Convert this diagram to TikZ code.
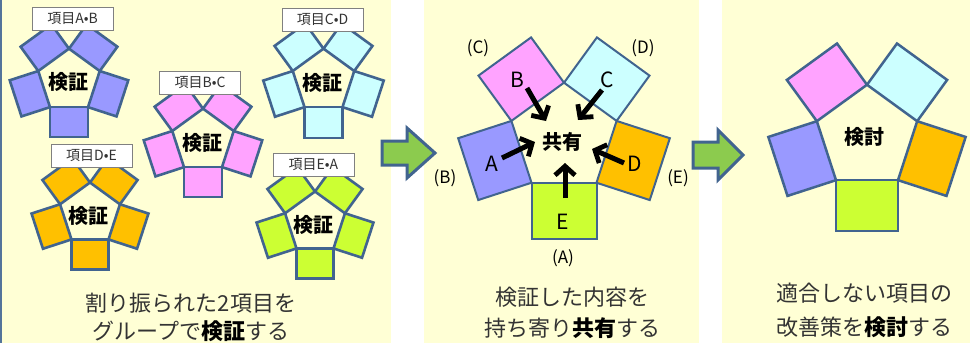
\documentclass[tikz,border=0pt]{standalone}
\usepackage{fontspec}
\setmainfont{Noto Sans CJK JP}
\usetikzlibrary{arrows.meta}
\definecolor{bg}{HTML}{FFFFD5}
\definecolor{edge}{HTML}{41648F}
\definecolor{cPurple}{HTML}{9999FF}
\definecolor{cPink}{HTML}{FFA3FF}
\definecolor{cCyan}{HTML}{CCFFFF}
\definecolor{cOrange}{HTML}{FFC000}
\definecolor{cLime}{HTML}{CCFF33}
\definecolor{cArrow}{HTML}{8CCB4E}
\definecolor{txt}{HTML}{333333}
\tikzset{
  tag/.style={draw=gray, fill=white, line width=0.8pt, minimum width=81pt, minimum height=23pt, inner sep=0pt, font=\fontsize{14}{16}\selectfont, text=txt},
  centre/.style={font=\fontsize{20}{22}\selectfont\bfseries, text=black},
  caption/.style={font=\fontsize{22}{26}\selectfont, text=txt, inner sep=0pt},
  letter/.style={font=\fontsize{21}{24}\selectfont, text=black, inner sep=0pt},
  paren/.style={font=\fontsize{17}{20}\selectfont, text=black, inner sep=0pt},
  bigarrow/.style={draw=edge, fill=cArrow, line width=3pt, line join=miter},
  pointer/.style={draw=black, line width=5pt, line cap=butt, -{Straight Barb[length=9pt,width=20pt,line width=4.8pt]}},
}
% multi-coloured flower
\newcommand{\flower}[5]{%
  \pgfmathsetmacro{\apo}{#3/(2*tan(36))}%
  \foreach \k/\c in {0/cLime,1/cOrange,2/cCyan,3/cPink,4/cPurple}{%
    \begin{scope}[shift={(#1,#2)}, rotate=72*\k]
      \draw[fill=\c, draw=edge, line width=#5, line join=miter] (-#3/2,\apo) rectangle (#3/2,\apo+#4);
    \end{scope}
  }%
}
% single-coloured flower
\newcommand{\monoflower}[6]{%
  \pgfmathsetmacro{\apo}{#3/(2*tan(36))}%
  \foreach \k in {0,...,4}{%
    \begin{scope}[shift={(#1,#2)}, rotate=72*\k]
      \draw[fill=#6, draw=edge, line width=#5, line join=miter] (-#3/2,\apo) rectangle (#3/2,\apo+#4);
    \end{scope}
  }%
}
\begin{document}
\begin{tikzpicture}[x=1pt,y=-1pt]
\useasboundingbox (0,0) rectangle (970,343);
% panels
\fill[bg] (0,0) rectangle (391,343);
\fill[bg] (424,0) rectangle (699,343);
\fill[bg] (722,0) rectangle (970,343);
\fill[edge!90] (0,0) rectangle (1.6,343);

% ---------- left panel ----------
\monoflower{69}{81}{38}{30}{2.6pt}{cPurple}
\monoflower{323.5}{81}{38}{31}{2.6pt}{cCyan}
\monoflower{203}{141}{38}{30}{2.6pt}{cPink}
\monoflower{90}{214}{37}{30}{2.6pt}{cOrange}
\monoflower{315}{223}{37}{30}{2.6pt}{cLime}
\node[tag] (tAB) at (72.5,18.5) {項目A•B};
\node[tag] (tCD) at (322.5,19.5) {項目C•D};
\node[tag] (tBC) at (200,82.5) {項目B•C};
\node[tag] (tDE) at (91.5,156) {項目D•E};
\node[tag] (tEA) at (313.5,165) {項目E•A};
\node[centre] (kAB) at (68,82) {検証};
\node[centre] (kCD) at (322,83) {検証};
\node[centre] (kBC) at (202,143) {検証};
\node[centre] (kDE) at (88,216) {検証};
\node[centre] (kEA) at (313,225) {検証};
\node[caption] (l1) at (191,303) {割り振られた2項目を};
\node[caption] (l2) at (191,331) {グループで\textbf{\color{black}検証}する};

% ---------- arrows between panels ----------
\draw[bigarrow] (382,141) -- (407,141) -- (407,128) -- (435,153) -- (407,178) -- (407,165) -- (382,165) -- cycle;
\draw[bigarrow] (693,142) -- (718,142) -- (718,130) -- (743,155) -- (718,180) -- (718,168) -- (693,168) -- cycle;

% ---------- middle panel ----------
\flower{564}{138}{65}{56}{2pt}
\node[font=\fontsize{20}{22}\selectfont\bfseries] (share) at (562,142) {共有};
\node[letter] (lB) at (517,80) {B};
\node[letter] (lC) at (607,80) {C};
\node[letter] (lA) at (492,164) {A};
\node[letter] (lD) at (635,164) {D};
\node[letter] (lE) at (563,222) {E};
\node[paren] (pC) at (478,48) {(C)};
\node[paren] (pD) at (643,48) {(D)};
\node[paren] (pB) at (445,178) {(B)};
\node[paren] (pE) at (678,178) {(E)};
\node[paren] (pA) at (563,258) {(A)};
\coordinate (sB) at (527,88);  \coordinate (eB) at (546,121);
\coordinate (sC) at (602,90);  \coordinate (eC) at (578,120);
\coordinate (sA) at (502,158); \coordinate (eA) at (535,142);
\coordinate (sD) at (624,163); \coordinate (eD) at (592,149);
\coordinate (sE) at (565,198); \coordinate (eE) at (565,163);
\draw[pointer] (sB) -- (eB);
\draw[pointer] (sC) -- (eC);
\draw[pointer] (sA) -- (eA);
\draw[pointer] (sD) -- (eD);
\draw[pointer] (sE) -- (eE);
\node[caption] (m1) at (572,297) {検証した内容を};
\node[caption] (m2) at (572,328) {持ち寄り\textbf{\color{black}共有}する};

% ---------- right panel ----------
\flower{867}{137.5}{62}{51}{2.5pt}
\node[centre] (kento) at (864,137) {検討};
\node[caption] (r1) at (864,293) {適合しない項目の};
\node[caption] (r2) at (864,327) {改善策を\textbf{\color{black}検討}する};
\end{tikzpicture}
\end{document}
